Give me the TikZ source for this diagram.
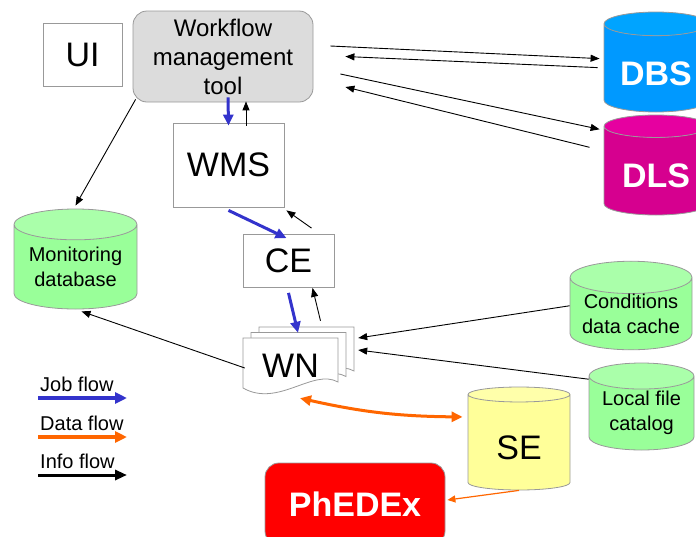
\documentclass[tikz,border=0pt]{standalone}
\usepackage{fontspec}
\setmainfont{Liberation Sans}
\usetikzlibrary{shapes.geometric,arrows.meta}
\definecolor{boxgray}{HTML}{999999}
\definecolor{toolgray}{HTML}{DCDCDC}
\definecolor{jobblue}{HTML}{3333CC}
\definecolor{dataorange}{HTML}{FF6600}
\definecolor{dbgreen}{HTML}{99FF99}
\definecolor{dbgreentop}{HTML}{AAFFAA}
\definecolor{dbsblue}{HTML}{0099FF}
\definecolor{dbsbluetop}{HTML}{00A4FF}
\definecolor{dlspink}{HTML}{D6008F}
\definecolor{dlspinktop}{HTML}{E600A0}
\definecolor{seyellow}{HTML}{FFFF99}
\definecolor{seyellowtop}{HTML}{FFFFAA}

\begin{document}
\begin{tikzpicture}[x=1pt,y=-1pt,
    box/.style={draw=boxgray,fill=white,line width=0.8pt,inner sep=0pt,
      font=\fontsize{34}{40}\selectfont},
    db/.style={cylinder,shape border rotate=90,aspect=0.33,draw=boxgray,anchor=shape center,
      line width=0.8pt,cylinder uses custom fill,inner sep=0pt,align=center},
    bigdb/.style={db,text height=34,text depth=0,font=\bfseries\fontsize{34}{40}\selectfont},
    page/.style={draw=boxgray,fill=white,line width=0.8pt},
    info/.style={-{Triangle[length=9pt,width=7pt]},line width=0.9pt},
    jobflow/.style={-{Triangle[length=11pt,width=10pt]},line width=3pt,jobblue},
    dataflow/.style={{Triangle[length=11pt,width=10pt]}-{Triangle[length=11pt,width=10pt]},
      line width=3pt,dataorange}]
    \useasboundingbox (0,0) rectangle (696,536);

    % Boxes
    \node[box,minimum width=79,minimum height=63] (ui) at (82.5,54.5) {UI};
    \node[box,fill=toolgray,rounded corners=14,minimum width=180,minimum height=91,
      align=center,font=\fontsize{24}{29}\selectfont] (wmt) at (223,56.5)
      {Workflow\\management\\tool};
    \node[box,minimum width=111,minimum height=84] (wms) at (228.5,165) {WMS};
    \node[box,minimum width=91,minimum height=53] (ce) at (288.5,261) {CE};

    % Worker node pages
    \foreach \dx/\dy in {16/-11,8/-5.5,0/0}{
      \begin{scope}[shift={(243+\dx,338+\dy)}]
        \draw[page] (0,0) -- (95,0) -- (95,44) .. controls (70,30) and (35,70) .. (0,50) -- cycle;
      \end{scope}
    }
    \node[inner sep=0pt,minimum width=95,minimum height=56,
      font=\fontsize{34}{40}\selectfont] (wn) at (290.5,366) {WN};

    % Databases
    \node[db,cylinder body fill=dbgreen,cylinder end fill=dbgreentop,minimum width=123,
      minimum height=100,font=\fontsize{20}{25}\selectfont] (mon) at (75.5,259)
      {Monitoring\\database};
    \node[bigdb,cylinder body fill=dbsblue,cylinder end fill=dbsbluetop,minimum width=104,
      minimum height=100,text=white] (dbs) at (656,62) {DBS};
    \node[bigdb,cylinder body fill=dlspink,cylinder end fill=dlspinktop,minimum width=104,
      minimum height=100,text=white] (dls) at (656,165) {DLS};
    \node[db,cylinder body fill=dbgreen,cylinder end fill=dbgreentop,minimum width=122,
      minimum height=86,font=\fontsize{20}{25}\selectfont] (cond) at (631,305.5)
      {Conditions\\data cache};
    \node[db,cylinder body fill=dbgreen,cylinder end fill=dbgreentop,minimum width=105,
      minimum height=87,font=\fontsize{20}{25}\selectfont] (lfc) at (641.5,406.5)
      {Local file\\catalog};
    \node[bigdb,cylinder body fill=seyellow,cylinder end fill=seyellowtop,minimum width=102,
      minimum height=103,font=\mdseries\fontsize{34}{40}\selectfont] (se) at (519,438.5) {SE};
    \node[box,fill=red,rounded corners=14,minimum width=180,minimum height=82,text=white,
      font=\bfseries\fontsize{34}{40}\selectfont] (phedex) at (355,504) {PhEDEx};

    % Job flow
    \draw[jobflow] ([xshift=5,yshift=5]wmt.south) -- ([yshift=-3]wms.north);
    \draw[jobflow] ([yshift=-3]wms.south) -- ([xshift=-2,yshift=-4]ce.north);
    \draw[jobflow] ([yshift=-5]ce.south) -- ([xshift=7.5,yshift=5]wn.north);

    % Info flow
    \draw[info] ([xshift=17.5,yshift=-3]wms.north) -- ([xshift=23,yshift=1]wmt.south);
    \draw[info] ([xshift=23,yshift=6]ce.north) -- ([xshift=2,yshift=-3]wms.south east);
    \draw[info] ([xshift=30,yshift=17]wn.north) -- ([xshift=24]ce.south);
    \draw[info] ([yshift=8]cond.west) -- ([xshift=20,yshift=28]wn.east);
    \draw[info] ([yshift=34]lfc.west) -- ([xshift=20,yshift=16]wn.east);
    \draw[info] ([xshift=2,yshift=-2]wn.west) -- ([xshift=6,yshift=-2]mon.south);
    \draw[info] ([xshift=3,yshift=3]wmt.south west) -- ([yshift=3]mon.north);
    \draw[info] ([xshift=17,yshift=10.5]wmt.east) -- ([xshift=-4,yshift=9.5]dbs.west);
    \draw[info] ([xshift=-6,yshift=0.5]dbs.west) -- ([xshift=32]wmt.east);
    \draw[info] ([xshift=27,yshift=-17.5]wmt.east) -- ([xshift=-4,yshift=41.5]dls.west);
    \draw[info] ([xshift=-14,yshift=23.5]dls.west) -- ([xshift=32,yshift=-30.5]wmt.east);

    % Data flow
    \draw[dataflow] ([xshift=9.5,yshift=-4]wn.south) to[bend right=6] ([xshift=-5,yshift=25.5]se.west);
    \draw[-{Triangle[length=8pt,width=7pt]},line width=1.2pt,dataorange] (se.south) -- ([xshift=2,yshift=4]phedex.east);

    % Legend
    \node[anchor=west,inner sep=0pt,font=\fontsize{20}{24}\selectfont] (jobtxt) at (40,384) {Job flow};
    \node[anchor=west,inner sep=0pt,font=\fontsize{20}{24}\selectfont] (datatxt) at (40,423) {Data flow};
    \node[anchor=west,inner sep=0pt,font=\fontsize{20}{24}\selectfont] (infotxt) at (40,461) {Info flow};
    \coordinate (jobA) at (38,398);   \coordinate (jobB) at (127,398);
    \coordinate (dataA) at (38,437);  \coordinate (dataB) at (127,437);
    \coordinate (infoA) at (38,475);  \coordinate (infoB) at (127,475);
    \draw[-{Triangle[length=12pt,width=11pt]},line width=4pt,jobblue] (jobA) -- (jobB);
    \draw[-{Triangle[length=12pt,width=11pt]},line width=4pt,dataorange] (dataA) -- (dataB);
    \draw[-{Triangle[length=12pt,width=10pt]},line width=3pt] (infoA) -- (infoB);
\end{tikzpicture}
\end{document}
